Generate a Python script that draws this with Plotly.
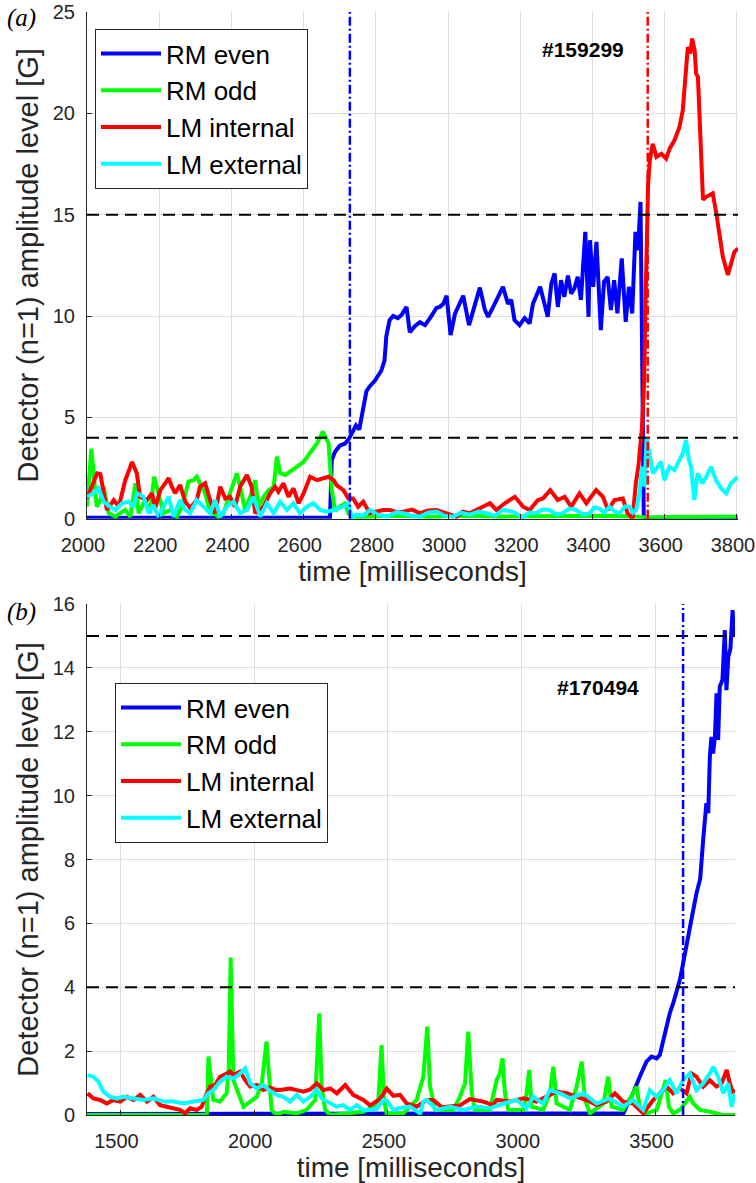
import plotly.graph_objects as go
from plotly.subplots import make_subplots

# ---------------- data: panel (a) #159299 ----------------
a_rm_even = [(2000,0.05),(2670,0.05),(2673,0.05),(2678,2.9),(2687,3.3),(2700,3.6),(2714,3.7),(2724,3.9),
             (2733,4.2),(2745,4.6),(2754,4.4),(2765,5.4),(2774,6.3),(2784,6.55),(2797,6.8),(2815,7.3),
             (2824,7.8),(2829,9.0),(2838,9.8),(2848,10.0),(2861,9.9),(2871,10.05),(2885,10.45),(2894,9.2),
             (2908,9.5),(2922,9.7),(2936,9.55),(2950,9.9),(2968,10.4),(2977,10.45),(2987,10.6),(2996,11.0),
             (3007,9.06),(3019,10.1),(3042,11.0),(3058,9.55),(3074,10.6),(3088,11.4),(3102,10.3),(3111,9.96),
             (3129,10.6),(3152,11.44),(3166,10.6),(3175,10.8),(3184,9.8),(3198,9.55),(3212,9.9),(3226,9.64),
             (3235,10.6),(3255,11.44),(3267,10.6),(3276,9.96),(3286,11.6),(3295,12.1),(3304,10.45),(3313,11.77),
             (3322,10.95),(3332,12.0),(3341,11.1),(3350,11.37),(3359,11.93),(3368,10.8),(3380,14.15),(3389,9.96),
             (3393,13.74),(3402,11.44),(3411,13.66),(3423,9.3),(3432,11.69),(3442,11.93),(3451,10.3),(3460,11.77),
             (3469,10.13),(3481,12.84),(3492,9.71),(3501,11.44),(3510,10.13),(3519,14.15),(3526,13.25),(3533,15.63),
             (3537,8.97),(3542,0.1),(3550,0.05),(3803,0.05)]

a_rm_odd = [(2000,0.6),(2005,2.07),(2012,3.45),(2020,1.9),(2027,0.59),(2037,0.92),(2046,1.58),(2060,0.27),
            (2079,0.1),(2092,0.27),(2106,0.43),(2120,0.1),(2134,1.75),(2143,0.27),(2161,0.92),(2174,0.27),
            (2186,2.07),(2198,1.26),(2212,0.27),(2231,0.43),(2249,0.1),(2263,0.59),(2281,1.83),(2295,1.9),
            (2304,2.07),(2313,1.75),(2327,1.26),(2337,0.59),(2350,0.27),(2364,0.1),(2378,0.27),(2396,1.26),
            (2415,2.24),(2424,1.58),(2438,0.43),(2452,1.08),(2466,1.9),(2475,0.59),(2489,1.08),(2503,1.41),
            (2517,1.58),(2526,3.06),(2535,2.24),(2549,2.16),(2563,2.32),(2581,2.56),(2600,2.81),(2618,3.22),
            (2637,3.72),(2653,4.29),(2660,4.04),(2669,3.72),(2678,1.4),(2687,0.4),(2700,0.59),(2714,0.75),
            (2724,0.27),(2737,0.05),(2780,0.1),(2850,0.15),(2950,0.1),(3050,0.15),(3150,0.1),(3250,0.12),
            (3350,0.1),(3450,0.15),(3520,0.1),(3560,0.05),(3600,0.08),(3700,0.1),(3803,0.1)]

a_lm_internal = [(2000,1.0),(2028,2.24),(2037,2.2),(2046,1.26),(2055,0.43),(2074,0.92),(2088,0.59),(2106,1.9),
                 (2125,2.8),(2138,2.24),(2147,1.08),(2166,0.92),(2180,1.26),(2189,0.53),(2203,1.41),(2217,1.75),
                 (2226,2.0),(2235,1.58),(2244,1.26),(2258,1.66),(2272,0.84),(2286,0.53),(2304,0.92),(2313,1.58),
                 (2327,1.75),(2341,0.92),(2355,0.27),(2369,1.58),(2383,1.0),(2396,1.08),(2410,0.59),(2424,1.58),
                 (2443,2.16),(2456,1.58),(2466,0.27),(2489,0.59),(2507,1.25),(2521,1.58),(2530,1.33),(2544,1.75),
                 (2558,1.08),(2572,1.5),(2586,0.76),(2600,1.26),(2618,2.07),(2637,1.9),(2655,2.0),(2669,2.07),
                 (2683,1.9),(2691,1.66),(2710,1.41),(2724,1.0),(2737,1.0),(2751,0.59),(2765,0.84),(2783,0.27),
                 (2800,0.35),(2821,0.43),(2839,0.43),(2860,0.3),(2876,0.35),(2900,0.45),(2922,0.27),(2945,0.4),
                 (2968,0.43),(2990,0.3),(3023,0.1),(3041,0.35),(3060,0.27),(3078,0.43),(3095,0.6),(3116,0.76),
                 (3134,0.43),(3157,0.76),(3185,1.08),(3208,0.59),(3226,0.43),(3249,0.92),(3263,1.0),(3283,1.41),
                 (3304,0.92),(3323,1.08),(3341,0.59),(3364,1.25),(3383,0.76),(3410,1.41),(3429,1.08),(3443,0.43),
                 (3461,0.92),(3484,1.0),(3497,0.27),(3511,0.0),(3520,1.75),(3527,2.56),(3537,4.5),(3543,6.7),
                 (3548,11.6),(3554,16.5),(3559,17.7),(3567,18.5),(3577,17.85),(3591,18.0),(3604,17.77),(3614,18.27),
                 (3627,18.67),(3641,19.33),(3650,20.15),(3660,22.29),(3664,23.27),(3671,22.95),(3676,23.69),
                 (3683,23.1),(3687,21.96),(3692,21.8),(3701,18.18),(3706,15.74),(3715,15.88),(3724,15.96),
                 (3733,16.05),(3743,15.06),(3752,13.9),(3761,12.92),(3775,12.02),(3784,12.6),(3793,13.17),(3803,13.33)]

a_lm_external = [(2000,1.08),(2018,1.26),(2032,1.5),(2046,0.84),(2064,0.59),(2079,0.43),(2097,0.76),(2115,0.84),
                 (2129,0.59),(2138,1.26),(2157,1.08),(2170,0.27),(2184,0.68),(2198,0.1),(2212,0.59),(2226,1.08),
                 (2240,0.1),(2258,0.92),(2272,0.43),(2286,0.27),(2304,0.92),(2323,0.59),(2341,0.27),(2355,0.92),
                 (2369,0.1),(2387,0.59),(2406,0.84),(2424,0.27),(2443,0.43),(2461,1.08),(2480,0.1),(2498,0.76),
                 (2517,0.27),(2535,0.84),(2554,0.43),(2572,0.76),(2590,0.27),(2609,0.59),(2627,0.76),(2646,0.43),
                 (2664,0.35),(2683,0.43),(2700,0.5),(2710,0.59),(2724,0.75),(2734,0.05),(2747,0.2),(2765,0.15),
                 (2784,0.43),(2805,0.2),(2830,0.1),(2855,0.3),(2876,0.27),(2900,0.15),(2922,0.1),(2945,0.3),
                 (2968,0.35),(2990,0.15),(3014,0.1),(3035,0.3),(3060,0.2),(3085,0.35),(3106,0.27),(3130,0.15),
                 (3152,0.43),(3180,0.35),(3207,0.05),(3225,0.3),(3244,0.27),(3262,0.45),(3281,0.43),(3300,0.2),
                 (3318,0.27),(3336,0.5),(3355,0.43),(3374,0.2),(3392,0.27),(3405,0.55),(3419,0.5),(3433,0.3),
                 (3447,0.59),(3461,0.35),(3475,0.27),(3490,0.6),(3503,0.59),(3512,0.3),(3521,0.43),(3530,1.25),
                 (3537,2.56),(3544,1.58),(3550,4.04),(3557,3.39),(3567,2.24),(3580,2.56),(3590,2.81),(3599,1.9),
                 (3613,2.56),(3627,2.4),(3641,2.89),(3650,3.22),(3659,3.88),(3667,2.89),(3673,2.56),(3682,0.92),
                 (3691,2.24),(3705,1.75),(3715,2.07),(3728,2.56),(3742,1.9),(3756,1.5),(3770,1.25),(3784,1.75),
                 (3798,1.99),(3803,1.95)]

a_vlines = [2728, 3553]
# ---------------- data: panel (b) #170494 ----------------
b_rm_even = [(1375,0.03),(1830,0.03),(3380,0.05),(3391,0.26),(3416,0.68),(3441,1.2),(3466,1.67),(3485,1.83),
             (3504,1.77),(3516,1.88),(3528,2.35),(3541,2.77),(3553,3.18),(3566,3.5),(3578,3.81),(3591,4.23),
             (3603,4.75),(3616,5.27),(3628,5.79),(3641,6.42),(3653,6.94),(3660,7.2),(3667,7.4),(3678,8.61),
             (3690,9.76),(3697,9.45),(3703,11.22),(3709,11.84),(3715,11.32),(3722,11.84),(3728,13.2),(3734,11.74),
             (3740,13.41),(3750,13.62),(3759,15.18),(3765,13.3),(3772,14.35),(3780,14.61),(3788,15.81),(3793,14.98)]

b_rm_odd = [(1375,0.0),(1823,0.0),(1829,1.83),(1838,1.09),(1847,0.47),(1872,0.42),(1897,0.68),(1905,1.5),
            (1912,4.93),(1922,1.09),(1941,0.68),(1960,0.26),(1985,0.42),(2010,0.57),(2028,0.99),(2040,1.83),
            (2046,2.3),(2053,1.51),(2065,0.16),(2084,0.0),(2109,0.1),(2159,0.05),(2196,0.16),(2228,0.47),
            (2243,3.18),(2252,0.89),(2265,0.16),(2284,0.0),(2358,0.05),(2408,0.1),(2445,0.26),(2464,0.47),
            (2476,2.19),(2485,0.47),(2495,0.05),(2557,0.05),(2607,0.47),(2632,1.2),(2647,2.77),(2657,0.89),
            (2676,0.16),(2744,0.16),(2769,0.57),(2788,0.99),(2800,2.61),(2813,0.68),(2825,0.16),(2881,0.16),
            (2906,1.09),(2918,1.3),(2928,1.77),(2937,0.68),(2950,0.16),(3006,0.16),(3018,0.68),(3028,1.41),
            (3037,0.26),(3080,0.16),(3105,0.68),(3118,1.51),(3130,0.36),(3180,0.16),(3205,0.89),(3224,1.67),
            (3236,0.47),(3255,0.05),(3305,0.36),(3323,1.2),(3336,0.26),(3379,0.16),(3416,0.68),(3429,0.89),
            (3441,0.26),(3466,0.05),(3504,0.16),(3528,0.89),(3538,1.09),(3550,0.26),(3566,0.05),(3591,0.16),
            (3616,0.47),(3628,0.57),(3641,0.36),(3666,0.16),(3703,0.1),(3753,0.0),(3797,0.0)]

b_lm_internal = [(1377,0.68),(1399,0.52),(1424,0.47),(1449,0.36),(1474,0.47),(1499,0.42),(1524,0.57),(1549,0.47),
                 (1574,0.63),(1599,0.42),(1623,0.57),(1648,0.31),(1673,0.26),(1698,0.21),(1723,0.16),(1742,0.05),
                 (1760,0.21),(1785,0.16),(1804,0.26),(1817,0.57),(1835,0.89),(1854,0.94),(1872,1.2),(1897,1.3),
                 (1910,1.36),(1922,1.25),(1947,1.36),(1966,1.09),(1985,0.89),(2010,0.94),(2034,0.78),(2059,0.86),
                 (2084,0.78),(2109,0.8),(2134,0.83),(2159,0.78),(2184,0.73),(2209,0.8),(2234,0.99),(2259,0.78),
                 (2284,0.83),(2309,0.68),(2340,0.94),(2370,0.63),(2408,0.47),(2433,0.3),(2470,0.5),(2495,0.83),
                 (2520,0.6),(2545,0.63),(2570,0.36),(2607,0.26),(2645,0.47),(2669,0.47),(2700,0.25),(2719,0.26),
                 (2769,0.3),(2806,0.5),(2830,0.45),(2856,0.42),(2893,0.31),(2906,0.47),(2956,0.42),(3006,0.52),
                 (3055,0.42),(3093,0.57),(3130,0.73),(3168,0.68),(3205,0.57),(3242,0.47),(3280,0.31),(3317,0.42),
                 (3348,0.68),(3379,0.42),(3416,0.36),(3454,0.05),(3491,0.47),(3516,0.68),(3541,0.89),(3566,0.68),
                 (3591,0.83),(3616,0.68),(3634,1.3),(3653,1.2),(3678,0.89),(3703,1.09),(3728,0.89),(3747,0.99),
                 (3766,1.41),(3778,0.99),(3790,0.68),(3797,0.8)]

b_lm_external = [(1377,1.25),(1399,1.2),(1418,1.04),(1436,0.73),(1462,0.57),(1487,0.52),(1511,0.57),(1549,0.52),
                 (1586,0.47),(1623,0.52),(1661,0.42),(1698,0.42),(1735,0.36),(1773,0.42),(1810,0.47),(1829,0.68),
                 (1847,0.78),(1872,1.04),(1897,1.2),(1922,1.15),(1941,1.25),(1966,1.46),(1985,0.99),(2010,0.83),
                 (2034,0.94),(2059,0.76),(2084,0.63),(2109,0.57),(2134,0.42),(2159,0.63),(2184,0.42),(2209,0.57),
                 (2234,0.8),(2252,0.52),(2283,0.36),(2308,0.26),(2333,0.31),(2358,0.16),(2383,0.31),(2408,0.16),
                 (2433,0.16),(2458,0.2),(2482,0.47),(2495,0.45),(2520,0.16),(2545,0.22),(2582,0.26),(2620,0.05),
                 (2632,0.42),(2645,0.47),(2682,0.16),(2732,0.26),(2781,0.16),(2831,0.26),(2881,0.21),(2931,0.36),
                 (2981,0.47),(3018,0.21),(3043,0.57),(3080,0.36),(3105,0.78),(3143,0.68),(3180,0.52),(3230,0.68),
                 (3280,0.36),(3329,0.52),(3379,0.26),(3416,0.47),(3454,0.16),(3479,0.78),(3504,0.57),(3528,0.78),
                 (3553,1.09),(3578,0.68),(3603,1.09),(3628,1.3),(3653,0.78),(3678,0.99),(3703,1.3),(3716,1.51),
                 (3734,1.2),(3753,0.68),(3772,0.99),(3784,0.26),(3797,0.68)]

b_vlines = [3603]
thresholds = [4, 15]

series_names = ["RM even", "RM odd", "LM internal", "LM external"]
series_colors = ["#0000ff", "#00ff00", "#ff0000", "#00ffff"]
a_series = [a_rm_even, a_rm_odd, a_lm_internal, a_lm_external]
b_series = [b_rm_even, b_rm_odd, b_lm_internal, b_lm_external]
a_vline_colors = ["#0000ff", "#ff0000"]
b_vline_colors = ["#0000ff"]
a_xticks = list(range(2000, 3801, 200))
a_yticks = list(range(0, 26, 5))
b_xticks = list(range(1500, 3501, 500))
b_yticks = list(range(0, 17, 2))

# ---------------- figure ----------------
W, H = 756, 1183
ML, MR, MT, MB = 87, 18, 12, 68
PW, PH = W - ML - MR, H - MT - MB

def px_x(px):
    return (px - ML) / PW

def px_y(py):
    return 1 - (py - MT) / PH

fig = make_subplots(rows=2, cols=1)
FONT = "Liberation Sans, Arial, Helvetica, sans-serif"
SERIF = "Liberation Serif, Times New Roman, serif"
INK = "#262626"

for row, series, leg in [(1, a_series, "legend"), (2, b_series, "legend2")]:
    for name, color, pts in zip(series_names, series_colors, series):
        t = [p[0] for p in pts]
        v = [p[1] for p in pts]
        fig.add_trace(go.Scatter(x=t, y=v, mode="lines", name=name,
                                 line=dict(color=color, width=4),
                                 legend=leg), row=row, col=1)

# threshold lines
for row in (1, 2):
    for th in thresholds:
        fig.add_hline(y=th, line=dict(color="black", width=2, dash="12px,7px"), row=row, col=1)
for xv, c in zip(a_vlines, a_vline_colors):
    fig.add_vline(x=xv, line=dict(color=c, width=2.5, dash="9px,3px,2px,3px"), row=1, col=1)
for xv, c in zip(b_vlines, b_vline_colors):
    fig.add_vline(x=xv, line=dict(color=c, width=2.5, dash="9px,3px,2px,3px"), row=2, col=1)

axis_common = dict(
    showgrid=True, gridcolor="#dedede", gridwidth=1,
    showline=True, linecolor=INK, linewidth=1, mirror=False,
    ticks="inside", ticklen=5, tickcolor=INK,
    tickfont=dict(family=FONT, size=20, color=INK),
    zeroline=False, automargin=False,
)
fig.update_xaxes(**axis_common, ticklabelstandoff=8, ticklabelshift=-4, ticklabeloverflow="allow")
fig.update_yaxes(**axis_common, ticklabelstandoff=7)

xtitle_font = dict(family=FONT, size=28, color=INK)
ytitle_font = dict(family=FONT, size=29, color=INK)
fig.update_xaxes(row=1, col=1, domain=[0, 1], range=[2000, 3803], tickvals=a_xticks,
                 title=dict(text="time [milliseconds]", font=xtitle_font, standoff=4))
fig.update_yaxes(row=1, col=1, domain=[px_y(518.7), 1], range=[0, 25], tickvals=a_yticks,
                 title=dict(text="Detector (n=1) amplitude level [G]", font=ytitle_font, standoff=5))
fig.update_xaxes(row=2, col=1, domain=[0, px_x(735)], range=[1375, 3797], tickvals=b_xticks,
                 title=dict(text="time [milliseconds]", font=xtitle_font, standoff=4))
fig.update_yaxes(row=2, col=1, domain=[0, px_y(604)], range=[0, 16], tickvals=b_yticks,
                 title=dict(text="Detector (n=1) amplitude level [G]", font=ytitle_font, standoff=5))

legend_style = dict(font=dict(family=FONT, size=26, color="black"), bgcolor="white",
                    bordercolor=INK, borderwidth=1, xanchor="left", yanchor="top",
                    itemwidth=60, tracegroupgap=0)
fig.update_layout(
    width=W, height=H, margin=dict(l=ML, r=MR, t=MT, b=MB),
    plot_bgcolor="white", paper_bgcolor="white",
    legend=dict(x=px_x(95), y=px_y(29), **legend_style),
    legend2=dict(x=px_x(115), y=px_y(683), **legend_style),
    showlegend=True,
)

ann = dict(xref="paper", yref="paper", showarrow=False, xanchor="center", yanchor="middle")
fig.add_annotation(x=px_x(583), y=px_y(50), text="<b>#159299</b>",
                   font=dict(family=FONT, size=21, color="black"), **ann)
fig.add_annotation(x=px_x(598), y=px_y(687), text="<b>#170494</b>",
                   font=dict(family=FONT, size=21, color="black"), **ann)
fig.add_annotation(x=px_x(21), y=px_y(18), text="<i>(a)</i>",
                   font=dict(family=SERIF, size=25, color="black"), **ann)
fig.add_annotation(x=px_x(21), y=px_y(612), text="<i>(b)</i>",
                   font=dict(family=SERIF, size=25, color="black"), **ann)

fig.write_html("out.html")
